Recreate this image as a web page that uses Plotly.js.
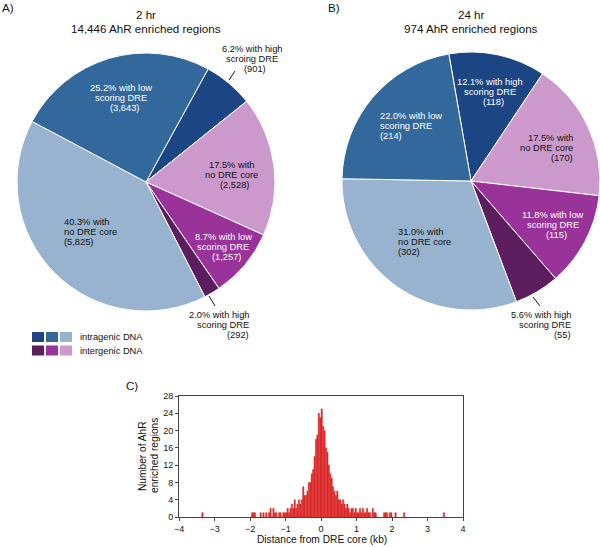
<!DOCTYPE html>
<html>
<head>
<meta charset="utf-8">
<script src="https://cdn.plot.ly/plotly-3.0.1.min.js"></script>
<style>html,body{margin:0;padding:0;background:#fff}</style>
</head>
<body>
<div id="chart" style="width:600px;height:547px"></div>
<script>
// pie data, slices listed clockwise from the dark blue one
var sliceColors = ["#1c4583", "#cc99cc", "#993399", "#5c1d5e", "#97b3cf", "#33689c"];
var countsA = [901, 2528, 1257, 292, 5825, 3643];
var countsB = [118, 170, 115, 55, 302, 214];
var wordsFirst = ["high", "", "low", "high", "", "low"];
var wordsSecondA = ["scroing DRE", "no DRE core", "scoring DRE", "scoring DRE", "no DRE core", "scoring DRE"];
var wordsSecondB = ["scoring DRE", "no DRE core", "scoring DRE", "scoring DRE", "no DRE core", "scoring DRE"];

// legend rows
var legendRows = ["intragenic DNA", "intergenic DNA"];
var legendColors = [["#1c4583", "#33689c", "#97b3cf"], ["#5c1d5e", "#993399", "#cc99cc"]];

// histogram: distance from DRE core (kb), 0.04 kb bins
var binKb = 0.04;
var coreStartKb = -1.20;
var coreCounts = [1,1,0,1,1, 1,2,1,2,3, 2,4,2,3,4, 3,4,7,5,
  5,6,8, 8,10,11, 14,18,19, 24,23,25, 21,20,16, 15,12,10, 9,7,6, 5,6,4,
  4,3,4, 3,2,3, 2,1,2, 2,1,2, 1,1,2, 1,2,1, 1,2,1, 1,0,2, 1,1,0];
var outlierKb = [-3.34, -1.94, -1.90, -1.86, -1.70, -1.62, -1.54, -1.46, -1.42, -1.34, -1.30, -1.26,
  1.78, 1.82, 1.86, 1.94, 1.98, 2.10, 2.34, 3.46];
var outlierCounts = [1,1,1,1,1,1,1,1,2,2,1,1, 1,1,1,1,1,1,1,1];

var W = 600, H = 547;
function px(x) { return x / W; }
function py(y) { return 1 - y / H; }
var FONT = "Arial, 'Liberation Sans', sans-serif";

var histX = [], histY = [];
coreCounts.forEach(function (c, i) {
  histX.push(coreStartKb + binKb * (i + 0.5));
  histY.push(c);
});
outlierKb.forEach(function (k, i) { histX.push(k); histY.push(outlierCounts[i]); });

function sum(a) { return a.reduce(function (s, v) { return s + v; }, 0); }

function pieTrace(counts, rot, dom) {
  return {
    type: "pie",
    values: counts,
    labels: counts.map(function (c, i) { return "s" + i; }),
    marker: {colors: sliceColors, line: {color: "#ffffff", width: 1}},
    sort: false,
    direction: "clockwise",
    rotation: rot,
    textinfo: "none",
    textposition: "none",
    hoverinfo: "none",
    showlegend: false,
    domain: dom
  };
}

var data = [
  pieTrace(countsA, 28.8, {x: [px(17), px(275)], y: [py(311), py(53)]}),
  pieTrace(countsB, -9.9, {x: [px(342), px(600)], y: [py(310), py(52)]}),
  {
    type: "bar",
    x: histX,
    y: histY,
    width: binKb,
    // thin outline in the fill colour hides the seams between 1-2 px bars
    marker: {color: "#dc2a2a", line: {color: "#dc2a2a", width: 0.4}},
    xaxis: "x",
    yaxis: "y",
    hoverinfo: "x+y",
    showlegend: false
  }
];

var annotations = [];
var shapes = [];
function addText(text, x, y, anchor, size, color, angle) {
  annotations.push({
    text: text, xref: "paper", yref: "paper", x: px(x), y: py(y),
    xanchor: anchor, yanchor: "middle", align: anchor, showarrow: false,
    textangle: angle || 0,
    font: {family: FONT, size: size, color: color || "#111"}
  });
}

// slice labels: [x, y, anchor, colour] for each slice
var labelPosA = [[252, 59, "center", "#111"], [231, 175, "center", "#111"], [223, 247, "center", "#fff"],
  [251, 325, "right", "#111"], [62, 232, "left", "#111"], [121, 98, "center", "#fff"]];
var labelPosB = [[490, 92, "center", "#fff"], [575, 148, "right", "#111"], [553, 225, "center", "#fff"],
  [573, 325, "right", "#111"], [396, 242, "left", "#111"], [378, 126, "left", "#fff"]];

function pieLabels(counts, second, pos) {
  var total = sum(counts);
  counts.forEach(function (c, i) {
    var pct = (100 * c / total).toFixed(1);
    var lines = [pct + "% with" + (wordsFirst[i] ? " " + wordsFirst[i] : ""), second[i],
      "(" + c.toLocaleString("en-US") + ")"];
    var p = pos[i];
    lines.forEach(function (t, k) {
      var xoff = 0;
      if (k === 2 && p[2] === "center") xoff = 3;
      addText(t, p[0] + xoff, p[1] + (k - 1) * 10, p[2], 9.3, p[3]);
    });
  });
}
pieLabels(countsA, wordsSecondA, labelPosA);
pieLabels(countsB, wordsSecondB, labelPosB);

// titles
addText("2 hr", 146, 15, "center", 11.6);
addText(sum(countsA).toLocaleString("en-US") + " AhR enriched regions", 146, 28, "center", 11.6);
addText("24 hr", 471, 15, "center", 11.6);
addText(sum(countsB).toLocaleString("en-US") + " AhR enriched regions", 471, 28, "center", 11.6);
addText("A)", 0, 7, "left", 11.6);
addText("B)", 326, 7, "left", 11.6);
addText("C)", 124, 385, "left", 11.6);

// leader lines
[[229, 80, 235, 71], [209, 296, 215, 306], [533, 297, 540, 306]].forEach(function (l) {
  shapes.push({type: "line", xref: "paper", yref: "paper",
    x0: px(l[0]), y0: py(l[1]), x1: px(l[2]), y1: py(l[3]),
    line: {color: "#111", width: 1}});
});

// colour key
legendRows.forEach(function (name, r) {
  var top = 332 + r * 13.5;
  legendColors[r].forEach(function (col, k) {
    var left = 32 + k * 14;
    shapes.push({type: "rect", xref: "paper", yref: "paper",
      x0: px(left), x1: px(left + 12), y0: py(top + 10), y1: py(top),
      fillcolor: col, line: {width: 0}});
  });
  addText(name, 78, top + 5, "left", 9.3);
});

// histogram axis titles
addText("Number of AhR", 142, 456, "center", 10.2, "#111", -90);
addText("enriched regions", 154, 456, "center", 10.2, "#111", -90);
addText("Distance from DRE core (kb)", 322, 539, "center", 10.2);

var axisStyle = {
  showline: true, mirror: true, linecolor: "#444", linewidth: 1,
  ticks: "outside", ticklen: 3, tickcolor: "#444", showgrid: false, zeroline: false,
  tickfont: {family: FONT, size: 9, color: "#111"}, fixedrange: true
};

var layout = {
  width: W, height: H,
  margin: {l: 0, r: 0, t: 0, b: 0},
  paper_bgcolor: "#fff", plot_bgcolor: "#fff",
  font: {family: FONT},
  bargap: 0,
  xaxis: Object.assign({}, axisStyle, {domain: [px(179), px(463)], range: [-4, 4], dtick: 1, anchor: "y"}),
  yaxis: Object.assign({}, axisStyle, {domain: [py(517), py(396)], range: [0, 28], dtick: 4, anchor: "x"}),
  annotations: annotations,
  shapes: shapes
};

Plotly.newPlot("chart", data, layout, {displayModeBar: false, staticPlot: true});
</script>
</body>
</html>
